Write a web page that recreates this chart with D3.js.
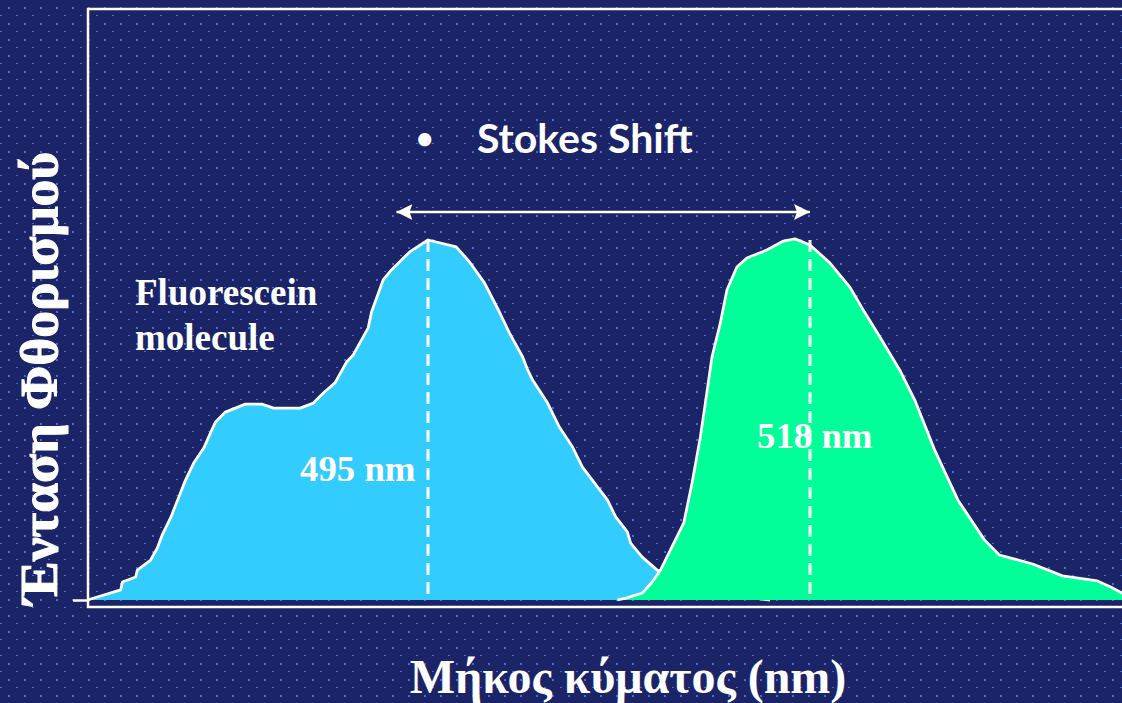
<!DOCTYPE html>
<html lang="el">
	<head>
		<meta charset="utf-8">
		<title>Stokes Shift - Fluorescein</title>
		<script type="text/javascript" src="https://d3js.org/d3.v7.min.js"></script>
		<style type="text/css">
			body { margin: 0; background: #1b2466; }
			svg { display: block; }
			.serif { font-family: "Liberation Serif", "Times New Roman", serif; font-weight: bold; fill: #ffffff; }
			.sans { font-family: Lato, "Open Sans", sans-serif; font-weight: bold; fill: #ffffff; }
		</style>
	</head>
	<body>
		<script type="text/javascript">

			//Width and height
			var w = 1122;
			var h = 703;

			//Excitation spectrum (wavelength nm, relative intensity)
			var excitation = [
				[474.5, 0], [476.5, 2.8], [476.6, 5.0], [477.4, 6.4], [477.5, 8.3], [478.3, 11.1],
				[478.7, 14.4], [479.0, 18.1], [479.5, 22.8], [480.0, 28.6], [480.4, 33.3], [480.9, 38.1],
				[481.5, 42.2], [481.9, 46.4], [482.2, 49.4], [482.8, 52.2], [484.0, 54.4], [485.0, 54.4],
				[485.7, 53.3], [487.3, 53.3], [488.1, 54.7], [488.7, 57.5], [489.4, 60.3], [490.1, 66.1],
				[490.5, 68.1], [491.4, 75.6], [491.6, 80.0], [492.3, 88.9], [492.8, 91.7], [493.9, 96.7],
				[495.0, 100], [496.7, 98.1], [497.5, 93.9], [498.4, 88.1], [499.3, 80.0], [499.9, 74.2],
				[500.7, 67.5], [501.0, 63.9], [501.3, 61.1], [502.2, 54.7], [502.9, 48.1], [503.7, 42.5],
				[504.0, 39.7], [504.3, 36.9], [505.2, 31.4], [505.8, 27.8], [506.3, 23.1], [507.0, 18.9],
				[507.2, 15.8], [507.9, 11.9], [508.8, 8.3], [510.8, 4.2], [513.2, 1.4], [515.6, 0]
			];

			//Emission spectrum (wavelength nm, relative intensity)
			var emission = [
				[506.4, 0], [507.0, 0.6], [507.3, 1.1], [507.9, 1.9], [508.5, 5.0], [509.0, 8.3],
				[509.6, 13.9], [510.4, 21.4], [510.9, 32.5], [511.4, 45.3], [511.7, 54.7], [512.1, 67.5],
				[512.6, 76.9], [513.0, 86.1], [513.6, 92.5], [514.2, 95.0], [515.4, 97.2], [516.4, 99.7],
				[517.1, 100.3], [518.0, 98.6], [519.2, 93.6], [520.4, 86.9], [521.2, 80.6], [522.2, 73.1],
				[523.4, 63.9], [524.3, 55.6], [525.5, 41.7], [526.9, 27.8], [528.5, 16.7], [529.4, 12.5],
				[531.4, 10.0], [533.2, 6.7], [535.3, 5.3], [536.1, 3.6], [536.8, 1.9], [537.3, 0.6]
			];

			//Peak wavelengths and the Stokes shift arrow ends
			var peaks = [495, 518];
			var peakLabels = ["495 nm", "518 nm"];
			var shiftArrow = [493.1, 518];

			//Text
			var title = "Stokes Shift";
			var moleculeLabel = ["Fluorescein", "molecule"];
			var xTitle = "Μήκος κύματος (nm)";
			var yTitle = "Ένταση Φθορισμού";

			//Frame
			var frameLeft = 88;
			var frameTop = 9;
			var frameBottom = 607;

			//Scales
			var xScale = d3.scaleLinear()
							.domain([495, 518])
							.range([428, 810]);

			var yScale = d3.scaleLinear()
							.domain([0, 100])
							.range([600, 240]);

			//SVG
			var svg = d3.select("body")
						.append("svg")
						.attr("width", w)
						.attr("height", h);

			var defs = svg.append("defs");

			//dotted background
			var pat = defs.append("pattern")
						.attr("id", "dots")
						.attr("width", 16)
						.attr("height", 16)
						.attr("patternUnits", "userSpaceOnUse");
			pat.append("rect").attr("width", 16).attr("height", 16).attr("fill", "#1b2466");
			pat.append("rect").attr("x", 8).attr("y", 7).attr("width", 2).attr("height", 2).attr("fill", "#4867dc");
			pat.append("rect").attr("x", 0).attr("y", 15).attr("width", 2).attr("height", 2).attr("fill", "#4867dc");

			//arrow heads
			["start", "end"].forEach(function(k) {
				defs.append("marker")
					.attr("id", "arrow-" + k)
					.attr("viewBox", "0 0 16 16")
					.attr("refX", k == "end" ? 16 : 0)
					.attr("refY", 8)
					.attr("markerWidth", 16)
					.attr("markerHeight", 16)
					.attr("markerUnits", "userSpaceOnUse")
					.attr("orient", "auto")
					.append("path")
					.attr("d", k == "end" ? "M0,0L16,8L0,16L3,8Z" : "M16,0L0,8L16,16L13,8Z")
					.attr("fill", "#ffffff");
			});

			svg.append("rect")
				.attr("width", w)
				.attr("height", h)
				.attr("fill", "url(#dots)");

			//Areas
			var area = d3.area()
						.x(function(d) { return xScale(d[0]); })
						.y0(yScale(0))
						.y1(function(d) { return yScale(d[1]); });

			var line = d3.line()
						.x(function(d) { return xScale(d[0]); })
						.y(function(d) { return yScale(d[1]); });

			var spectra = [
				{ data: excitation, fill: "#33ccff" },
				{ data: emission, fill: "#00ff99" }
			];

			spectra.forEach(function(s) {
				svg.append("path")
					.datum(s.data)
					.attr("d", area)
					.attr("fill", s.fill);
				svg.append("path")
					.datum(s.data)
					.attr("d", line)
					.attr("fill", "none")
					.attr("stroke", "#ffffff")
					.attr("stroke-width", 2.8)
					.attr("stroke-linejoin", "round");
			});

			//Peak lines
			svg.selectAll(".peak")
				.data(peaks)
				.enter()
				.append("line")
				.attr("class", "peak")
				.attr("x1", function(d) { return xScale(d); })
				.attr("x2", function(d) { return xScale(d); })
				.attr("y1", yScale(100))
				.attr("y2", yScale(0))
				.attr("stroke", "#ffffff")
				.attr("stroke-width", 3)
				.attr("stroke-dasharray", "12,7");

			//Peak labels
			svg.selectAll(".peakLabel")
				.data(peakLabels)
				.enter()
				.append("text")
				.attr("class", "peakLabel serif")
				.attr("x", function(d, i) { return i == 0 ? 300 : 757; })
				.attr("y", function(d, i) { return i == 0 ? 481 : 448; })
				.attr("font-size", 36.8)
				.text(function(d) { return d; });

			//Stokes shift arrow
			svg.append("line")
				.attr("x1", xScale(shiftArrow[0]))
				.attr("x2", xScale(shiftArrow[1]))
				.attr("y1", 212)
				.attr("y2", 212)
				.attr("stroke", "#ffffff")
				.attr("stroke-width", 2.5)
				.attr("marker-start", "url(#arrow-start)")
				.attr("marker-end", "url(#arrow-end)");

			svg.append("text")
				.attr("class", "sans")
				.attr("x", 416)
				.attr("y", 149)
				.attr("font-size", 30)
				.text("•");

			svg.append("text")
				.attr("class", "sans")
				.attr("x", 477)
				.attr("y", 153)
				.attr("font-size", 41)
				.text(title);

			//Molecule label
			svg.append("text")
				.attr("class", "serif")
				.attr("font-size", 37)
				.selectAll("tspan")
				.data(moleculeLabel)
				.enter()
				.append("tspan")
				.attr("x", 135)
				.attr("y", function(d, i) { return 305 + i * 45; })
				.text(function(d) { return d; });

			//Frame
			svg.append("path")
				.attr("d", "M" + w + "," + frameTop + "H" + frameLeft + "V" + frameBottom + "H" + w)
				.attr("fill", "none")
				.attr("stroke", "#ffffff")
				.attr("stroke-width", 2.5);

			//Zero tick
			var yAxis = d3.axisLeft(yScale)
							.tickValues([0])
							.tickSize(16)
							.tickFormat("");
			svg.append("g")
				.attr("transform", "translate(" + (frameLeft + 1) + ",0)")
				.call(yAxis)
				.call(function(g) {
					g.select(".domain").remove();
					g.selectAll("line").attr("stroke", "#ffffff").attr("stroke-width", 2.5);
				});

			//Axis titles
			svg.append("text")
				.attr("class", "serif")
				.attr("x", 628)
				.attr("y", 693)
				.attr("text-anchor", "middle")
				.attr("font-size", 48)
				.text(xTitle);

			svg.append("text")
				.attr("class", "serif")
				.attr("transform", "translate(57,378) rotate(-90)")
				.attr("text-anchor", "middle")
				.attr("font-size", 53.5)
				.attr("stroke", "#ffffff")
				.attr("stroke-width", 1)
				.text(yTitle);

		</script>
	</body>
</html>
